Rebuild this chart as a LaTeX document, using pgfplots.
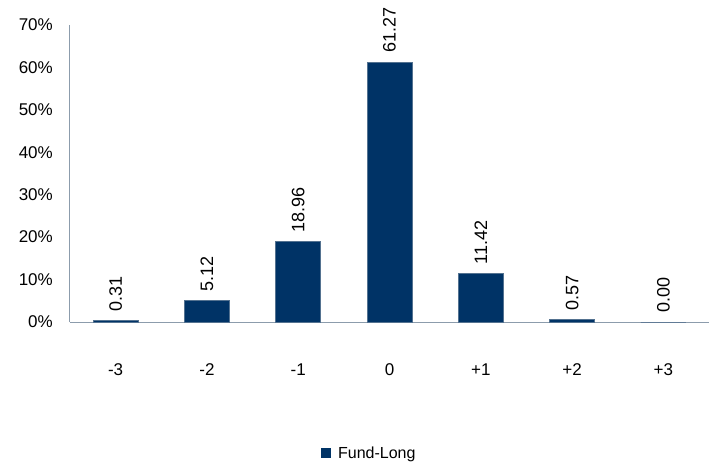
\documentclass[border=0pt]{standalone}
\usepackage{pgfplots}
\pgfplotsset{compat=1.18}
\usepackage{fontspec}
\setmainfont{Liberation Sans}
\definecolor{navy}{RGB}{0,51,102}
\definecolor{axgray}{RGB}{140,156,172}
\begin{document}
\begin{tikzpicture}[x=1pt,y=1pt]
\useasboundingbox (-70,-144) rectangle (645,322);
\begin{axis}[
  at={(0,0)}, anchor=south west,
  scale only axis, width=639pt, height=297pt,
  xmin=-0.5, xmax=6.5, ymin=0, ymax=70,
  axis x line*=bottom, axis y line*=left,
  axis line style={axgray, line width=1pt, -},
  xtick={0,1,2,3,4,5,6},
  xticklabels={-3,-2,-1,0,+1,+2,+3},
  ytick={0,10,...,70},
  yticklabel={\pgfmathprintnumber{\tick}\%},
  /pgf/number format/assume math mode=true,
  major tick length=0pt,
  tick label style={font=\fontsize{17}{20}\selectfont, black},
  xticklabel style={anchor=base, yshift=-53pt},
  yticklabel style={anchor=east, inner sep=0pt, xshift=-17pt},
  ybar, bar width=45pt,
  nodes near coords,
  nodes near coords style={rotate=90, anchor=west, inner sep=9pt, font=\fontsize{18}{20}\selectfont, black,
    /pgf/number format/.cd, fixed, fixed zerofill, precision=2, assume math mode=true},
  legend style={draw=none, at={(0.468,-0.441)}, anchor=center, font=\fontsize{16}{19}\selectfont, inner sep=0pt, /tikz/column sep=6pt},
  legend image code/.code={\fill[navy] (0pt,-4.5pt) rectangle (9pt,4.5pt);},
  clip=false,
]
\addplot[fill=navy, draw=axgray!60!navy, line width=0.5pt] coordinates {
(0,0.31) (1,5.12) (2,18.96) (3,61.27) (4,11.42) (5,0.57) (6,0.00)};
\addlegendentry{Fund-Long}
\end{axis}
\end{tikzpicture}
\end{document}
